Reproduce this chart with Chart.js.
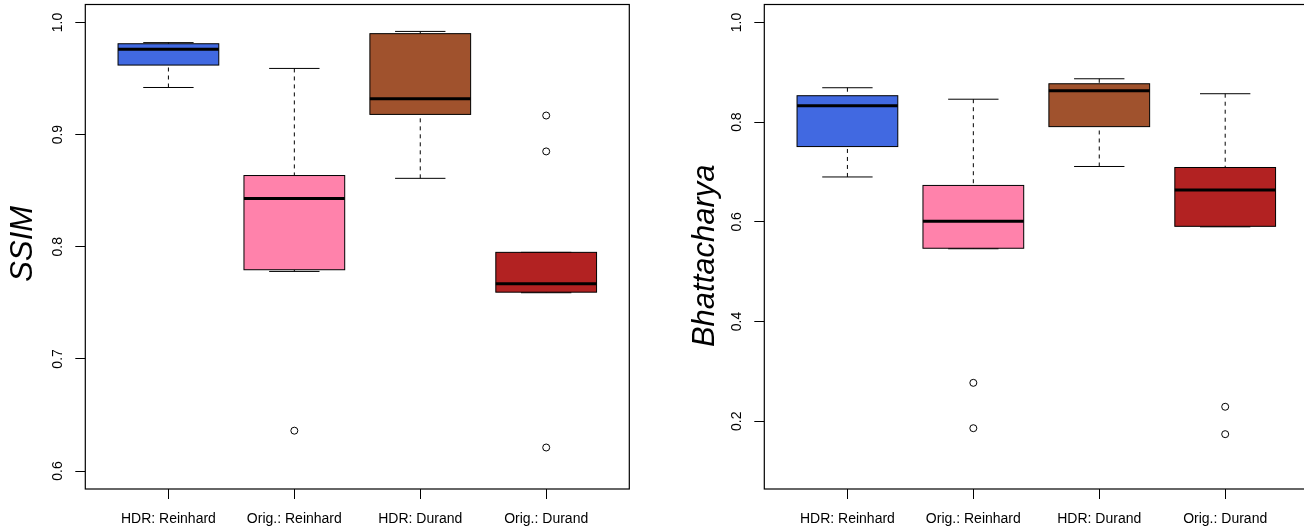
<!DOCTYPE html>
<html>
<head>
<meta charset="utf-8">
<script src="https://cdn.jsdelivr.net/npm/chart.js@4.4.1/dist/chart.umd.min.js"></script>
<style>
  html, body { margin: 0; padding: 0; background: #fff; overflow: hidden; width: 1304px; height: 529px; }
  canvas { position: absolute; top: 0; }
  #c1 { left: 0; }
  #c2 { left: 679px; }
</style>
</head>
<body>
<canvas id="c1" width="650" height="529"></canvas>
<canvas id="c2" width="650" height="529"></canvas>
<script>
// ---------- data ----------
const categories = ['HDR: Reinhard', 'Orig.: Reinhard', 'HDR: Durand', 'Orig.: Durand'];
const boxColors = ['#4169E1', '#FF82AB', '#A0522D', '#B22222'];

// SSIM
const ssimWhiskerLow  = [0.942, 0.778, 0.861, 0.759];
const ssimQ1          = [0.962, 0.7795, 0.918, 0.7595];
const ssimMedian      = [0.976, 0.843, 0.932, 0.767];
const ssimQ3          = [0.981, 0.8635, 0.990, 0.795];
const ssimWhiskerHigh = [0.982, 0.959, 0.992, 0.795];
const ssimOutliers    = [[], [0.636], [], [0.917, 0.885, 0.621]];
const ssimTicks       = [0.6, 0.7, 0.8, 0.9, 1.0];
const ssimTickLabels  = ['0.6', '0.7', '0.8', '0.9', '1.0'];
const ssimLimits      = [0.6, 1.0];

// Bhattacharya
const bhWhiskerLow  = [0.690, 0.546, 0.711, 0.590];
const bhQ1          = [0.751, 0.547, 0.791, 0.591];
const bhMedian      = [0.833, 0.601, 0.863, 0.664];
const bhQ3          = [0.853, 0.673, 0.877, 0.709];
const bhWhiskerHigh = [0.869, 0.846, 0.887, 0.857];
const bhOutliers    = [[], [0.277, 0.186], [], [0.229, 0.174]];
const bhTicks       = [0.2, 0.4, 0.6, 0.8, 1.0];
const bhTickLabels  = ['0.2', '0.4', '0.6', '0.8', '1.0'];
const bhLimits      = [0.1, 1.0];

// ---------- drawing ----------
const FONT = "'Liberation Sans', Arial, Helvetica, sans-serif";

const rBoxPlugin = {
  id: 'rbox',
  beforeDatasetsDraw(chart) {
    const o = chart.options.plugins.rbox;
    const ctx = chart.ctx;
    const x = chart.scales.x, y = chart.scales.y;
    ctx.save();
    ctx.strokeStyle = '#000';
    for (let i = 0; i < o.median.length; i++) {
      const c = i + 1;
      const xl = x.getPixelForValue(c - 0.4), xr = x.getPixelForValue(c + 0.4);
      const cl = x.getPixelForValue(c - 0.2), cr = x.getPixelForValue(c + 0.2);
      const xc = x.getPixelForValue(c);
      const ylo = y.getPixelForValue(o.low[i]);
      const yq1 = y.getPixelForValue(o.q1[i]);
      const ymd = y.getPixelForValue(o.median[i]);
      const yq3 = y.getPixelForValue(o.q3[i]);
      const yhi = y.getPixelForValue(o.high[i]);
      // whiskers
      ctx.lineWidth = 1;
      ctx.setLineDash([4, 4]);
      ctx.beginPath();
      ctx.moveTo(xc, ylo); ctx.lineTo(xc, yq1);
      ctx.moveTo(xc, yhi); ctx.lineTo(xc, yq3);
      ctx.stroke();
      ctx.setLineDash([]);
      // staples
      ctx.beginPath();
      ctx.moveTo(cl, ylo); ctx.lineTo(cr, ylo);
      ctx.moveTo(cl, yhi); ctx.lineTo(cr, yhi);
      ctx.stroke();
      // box
      ctx.fillStyle = o.colors[i];
      ctx.fillRect(xl, yq3, xr - xl, yq1 - yq3);
      ctx.strokeRect(xl, yq3, xr - xl, yq1 - yq3);
      // median
      ctx.lineWidth = 3;
      ctx.beginPath();
      ctx.moveTo(xl, ymd); ctx.lineTo(xr, ymd);
      ctx.stroke();
    }
    ctx.restore();
  },
  afterDraw(chart) {
    const o = chart.options.plugins.rbox;
    const {ctx, chartArea: a} = chart;
    ctx.save();
    ctx.strokeStyle = '#000';
    ctx.lineWidth = 1.2;
    ctx.strokeRect(a.left, a.top, a.right - a.left, a.bottom - a.top);
    // y-axis label (R mtext style)
    ctx.translate(o.ylabX, (a.top + a.bottom) / 2 + o.ylabDy);
    ctx.rotate(-Math.PI / 2);
    ctx.fillStyle = '#000';
    ctx.font = 'italic 31px ' + FONT;
    ctx.textAlign = 'center';
    ctx.textBaseline = 'middle';
    ctx.fillText(o.ylab, 0, 0);
    ctx.restore();
  }
};

function makeChart(id, title, ylabX, ylabDy, low, q1, med, q3, high, outliers, ticks, tickLabels, limits) {
  const ext = (limits[1] - limits[0]) * 0.04;
  const nCat = categories.length;
  const xExt = nCat * 0.04;
  const pts = [];
  outliers.forEach((arr, i) => arr.forEach(v => pts.push({x: i + 1, y: v})));
  return new Chart(document.getElementById(id), {
    type: 'scatter',
    data: {
      datasets: [{
        data: pts,
        pointRadius: 3.5,
        pointHoverRadius: 3.5,
        borderWidth: 1,
        borderColor: '#000',
        backgroundColor: 'rgba(255,255,255,0)',
        clip: false
      }]
    },
    options: {
      responsive: false,
      animation: false,
      devicePixelRatio: 1,
      events: [],
      layout: { padding: { top: 2, right: 20.7, bottom: 0, left: 0 } },
      plugins: {
        legend: { display: false },
        tooltip: { enabled: false },
        rbox: { low: low, q1: q1, median: med, q3: q3, high: high, colors: boxColors,
                ylab: title, ylabX: ylabX, ylabDy: ylabDy }
      },
      scales: {
        x: {
          type: 'linear',
          min: 0.5 - xExt,
          max: nCat + 0.5 + xExt,
          afterBuildTicks: s => { s.ticks = categories.map((_, i) => ({value: i + 1})); },
          afterFit: s => { s.height = 40; s.paddingLeft = 0; s.paddingRight = 0; },
          ticks: {
            autoSkip: false, minRotation: 0, maxRotation: 0, padding: 12,
            color: '#000', font: { family: FONT, size: 14 },
            callback: (v, i) => categories[i]
          },
          grid: { drawOnChartArea: false, drawTicks: true, tickLength: 10, color: '#000', tickWidth: 1 },
          border: { display: false }
        },
        y: {
          type: 'linear',
          min: limits[0] - ext,
          max: limits[1] + ext,
          afterBuildTicks: s => { s.ticks = ticks.map(v => ({value: v})); },
          afterFit: s => { s.width = 85.3; s.paddingTop = 0; s.paddingBottom = 0; },
          ticks: {
            autoSkip: false, minRotation: 90, maxRotation: 90, padding: 7, crossAlign: 'center',
            color: '#000', font: { family: FONT, size: 14 },
            callback: (v, i) => tickLabels[i]
          },
          grid: { drawOnChartArea: false, drawTicks: true, tickLength: 10, color: '#000', tickWidth: 1 },
          border: { display: false },
          title: { display: false }
        }
      }
    },
    plugins: [rBoxPlugin]
  });
}

makeChart('c1', 'SSIM', 23, -3, ssimWhiskerLow, ssimQ1, ssimMedian, ssimQ3, ssimWhiskerHigh,
          ssimOutliers, ssimTicks, ssimTickLabels, ssimLimits);
makeChart('c2', 'Bhattacharya', 26, 9, bhWhiskerLow, bhQ1, bhMedian, bhQ3, bhWhiskerHigh,
          bhOutliers, bhTicks, bhTickLabels, bhLimits);
</script>
</body>
</html>
